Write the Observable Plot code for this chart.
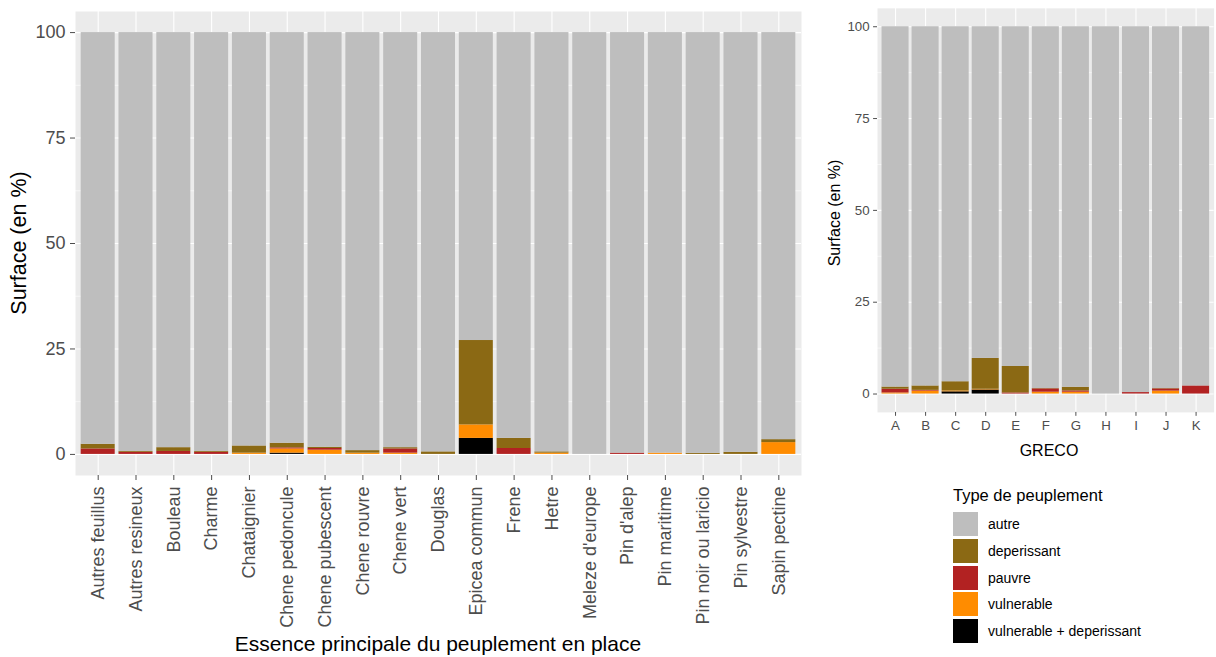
<!DOCTYPE html>
<html><head><meta charset="utf-8">
<script src="https://cdn.jsdelivr.net/npm/d3@7"></script>
<script src="https://cdn.jsdelivr.net/npm/@observablehq/plot@0.6"></script>
<style>
body{margin:0;width:1216px;height:657px;overflow:hidden;background:#fff;font-family:"Liberation Sans",Arial,sans-serif;position:relative}
.abs{position:absolute}
.ttl{position:absolute;color:#000;white-space:nowrap;line-height:1}
#legend{position:absolute;left:953px;top:486px;color:#000}
#legend .lt{font-size:16.5px;height:22px;line-height:18px;margin-bottom:3px}
#legend .row{display:flex;align-items:center;height:26.7px}
#legend .sw{width:25px;height:24px;margin-right:10px}
#legend .lb{font-size:14px}
</style></head><body>
<div id="left" class="abs" style="left:0;top:0"></div>
<div id="right" class="abs" style="left:810px;top:0"></div>
<div class="ttl" style="left:438px;top:633px;font-size:21px;transform:translateX(-50%)">Essence principale du peuplement en place</div>
<div class="ttl" style="left:20px;top:243px;font-size:21.5px;transform:translate(-50%,-50%) rotate(-90deg)">Surface (en %)</div>
<div class="ttl" style="left:1049px;top:443px;font-size:16px;transform:translateX(-50%)">GRECO</div>
<div class="ttl" style="left:835px;top:213px;font-size:16px;transform:translate(-50%,-50%) rotate(-90deg)">Surface (en %)</div>
<div id="legend"></div>
<script>
// ---- Data ----
const types = ["autre", "deperissant", "pauvre", "vulnerable", "vulnerable + deperissant"];
const typeColors = ["#BEBEBE", "#8B6914", "#B22222", "#FF8C00", "#000000"];
const yTicks = [0, 25, 50, 75, 100];

const essences = ["Autres feuillus", "Autres resineux", "Bouleau", "Charme", "Chataignier",
  "Chene pedoncule", "Chene pubescent", "Chene rouvre", "Chene vert", "Douglas",
  "Epicea commun", "Frene", "Hetre", "Meleze d'europe", "Pin d'alep", "Pin maritime",
  "Pin noir ou laricio", "Pin sylvestre", "Sapin pectine"];
const essVulnDep = [0, 0, 0, 0, 0, 0.3, 0, 0, 0, 0, 3.8, 0, 0, 0, 0, 0, 0, 0, 0];
const essVuln    = [0, 0, 0, 0, 0.3, 1.0, 1.0, 0.3, 0.3, 0, 3.2, 0, 0.3, 0, 0, 0.3, 0, 0, 2.8];
const essPauvre  = [1.3, 0.5, 0.7, 0.5, 0, 0.25, 0.4, 0, 1.0, 0, 0, 1.4, 0, 0, 0.3, 0, 0, 0, 0];
const essDeper   = [1.1, 0.2, 0.9, 0.2, 1.7, 1.1, 0.3, 0.6, 0.3, 0.6, 20.0, 2.4, 0.3, 0, 0, 0, 0.25, 0.5, 0.7];
const essAutre   = [97.6, 99.3, 98.4, 99.3, 98.0, 97.35, 98.3, 99.1, 98.4, 99.4, 73.0, 96.2, 99.4, 100, 99.7, 99.7, 99.75, 99.5, 96.5];

const greco = ["A", "B", "C", "D", "E", "F", "G", "H", "I", "J", "K"];
const grVulnDep = [0, 0, 0.6, 1.1, 0, 0, 0, 0, 0, 0, 0];
const grVuln    = [0.3, 0.8, 0.25, 0.2, 0, 0.5, 0.5, 0, 0, 0.8, 0];
const grPauvre  = [1.0, 0.2, 0, 0, 0.3, 0.9, 0.35, 0, 0.4, 0.6, 2.2];
const grDeper   = [0.6, 1.2, 2.5, 8.4, 7.2, 0.1, 1.0, 0, 0, 0.1, 0];
const grAutre   = [98.1, 97.8, 96.65, 90.3, 92.5, 98.5, 98.15, 100, 99.6, 98.5, 97.8];

// ---- Build tables (stack order: bottom first) ----
function rows(cats, series) {
  const out = [];
  cats.forEach((c, i) => {
    for (const [name, arr] of series) out.push({cat: c, type: name, value: arr[i]});
  });
  return out;
}
const essData = rows(essences, [["vulnerable + deperissant", essVulnDep], ["vulnerable", essVuln],
  ["pauvre", essPauvre], ["deperissant", essDeper], ["autre", essAutre]]);
const grData = rows(greco, [["vulnerable + deperissant", grVulnDep], ["vulnerable", grVuln],
  ["pauvre", grPauvre], ["deperissant", grDeper], ["autre", grAutre]]);

function chart(cats, data, o) {
  return Plot.plot({
    width: o.width, height: o.height,
    marginLeft: o.mL, marginRight: o.mR, marginTop: o.mT, marginBottom: o.mB,
    style: {fontFamily: '"Liberation Sans", Arial, sans-serif', color: "#4D4D4D", background: "transparent", overflow: "visible"},
    x: {domain: cats, paddingInner: 0.1, paddingOuter: 0.15, round: false, axis: null},
    y: {domain: [-5, 105], axis: null},
    color: {domain: types, range: typeColors},
    marks: [
      Plot.frame({fill: "#EBEBEB", stroke: null}),
      Plot.ruleY([12.5, 37.5, 62.5, 87.5], {stroke: "white", strokeWidth: 0.55}),
      Plot.ruleY(yTicks, {stroke: "white", strokeWidth: 1.1}),
      Plot.gridX({stroke: "white", strokeOpacity: 1, strokeWidth: 1.1}),
      Plot.barY(data, {x: "cat", y: "value", fill: "type", order: null}),
      Plot.axisY({ticks: yTicks, tickSize: o.ytick, tickPadding: o.ypad, fontSize: o.font, label: null, tickFormat: d => d}),
      Plot.axisX({tickSize: o.xtick, tickPadding: o.xpad, fontSize: o.font, label: null, tickRotate: o.rot})
    ]
  });
}

document.getElementById("left").append(chart(essences, essData, {
  width: 810, height: 657, mL: 75, mR: 9, mT: 11, mB: 182,
  font: 18, ytick: 5, ypad: 5, xtick: 5, xpad: 6, rot: -90
}));
document.getElementById("right").append(chart(greco, grData, {
  width: 412, height: 470, mL: 68, mR: 2.4, mT: 8, mB: 52,
  font: 13.5, ytick: 4, ypad: 4, xtick: 4, xpad: 4, rot: 0
}));

// ---- Legend ----
const lg = document.getElementById("legend");
lg.innerHTML = '<div class="lt">Type de peuplement</div>' + types.map((t, i) =>
  `<div class="row"><div class="sw" style="background:${typeColors[i]}"></div><div class="lb">${t}</div></div>`).join("");
</script>
</body></html>
